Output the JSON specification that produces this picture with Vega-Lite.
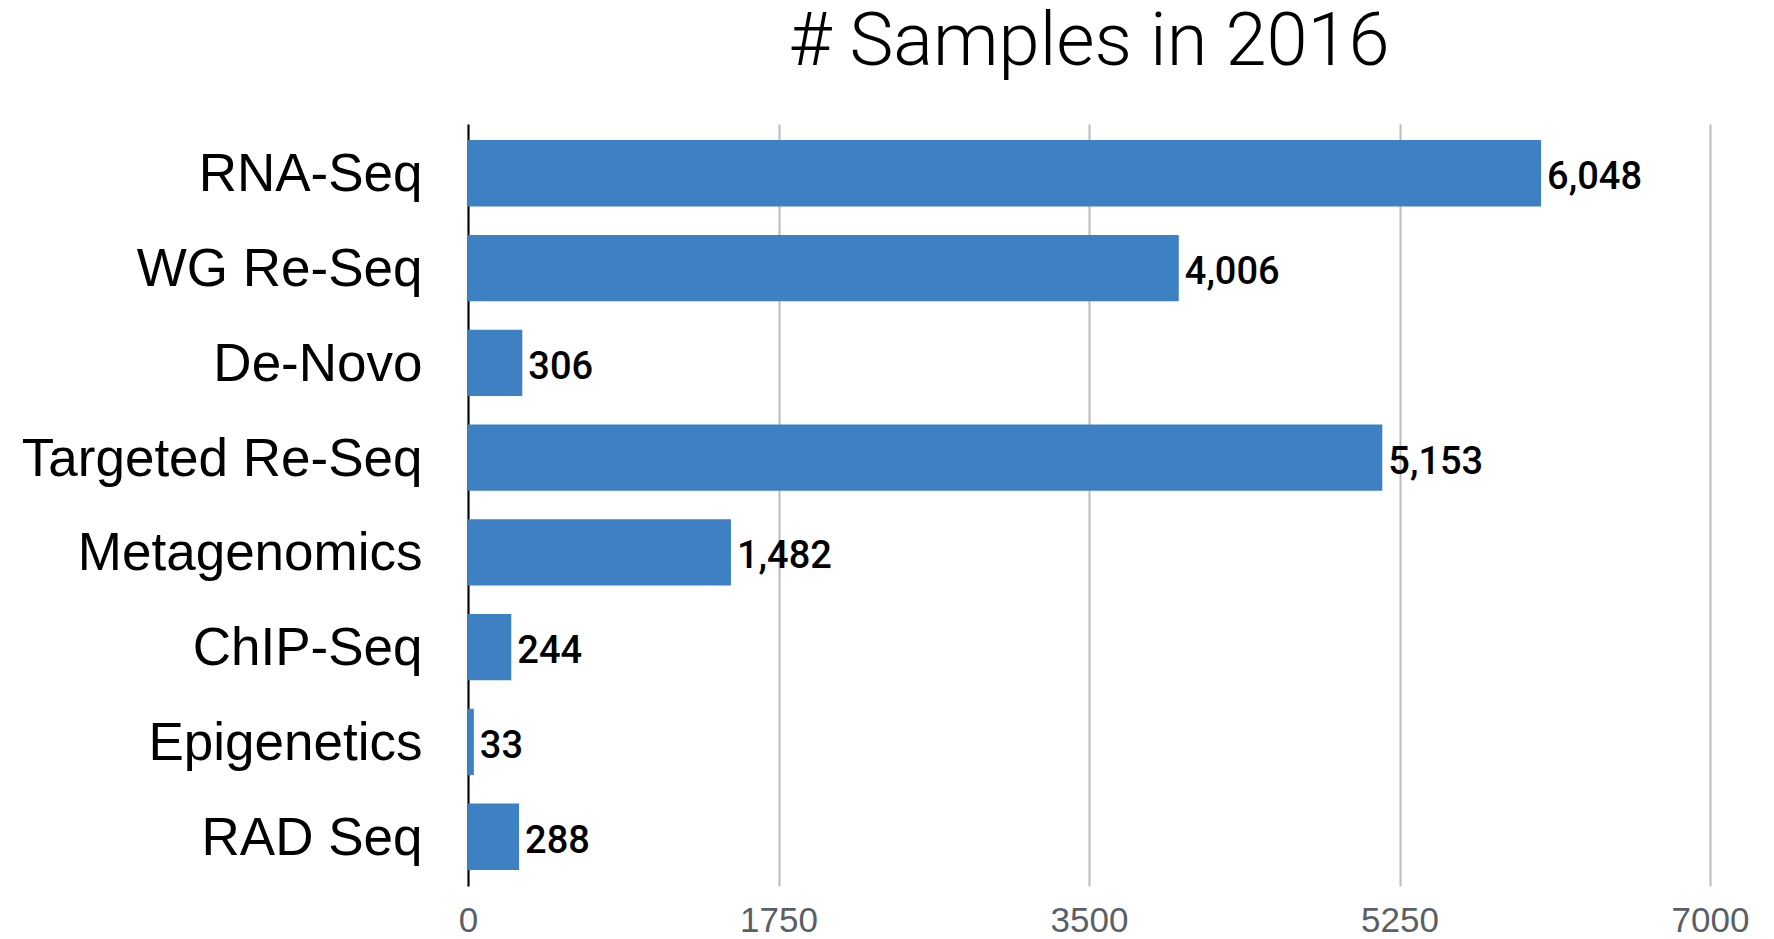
{
  "$schema": "https://vega.github.io/schema/vega-lite/v6.json",
  "width": 1242,
  "height": 762,
  "autosize": "none",
  "padding": {"left": 468, "top": 124, "right": 64, "bottom": 53},
  "background": "white",
  "config": {"view": {"stroke": null}},
  "title": {
    "text": "# Samples in 2016",
    "font": "Roboto",
    "fontWeight": 300,
    "fontSize": 74,
    "color": "black",
    "anchor": "middle",
    "baseline": "alphabetic",
    "offset": -15
  },
  "data": {
    "values": [
      {"type": "RNA-Seq", "samples": 6048},
      {"type": "WG Re-Seq", "samples": 4006},
      {"type": "De-Novo", "samples": 306},
      {"type": "Targeted Re-Seq", "samples": 5153},
      {"type": "Metagenomics", "samples": 1482},
      {"type": "ChIP-Seq", "samples": 244},
      {"type": "Epigenetics", "samples": 33},
      {"type": "RAD Seq", "samples": 288}
    ]
  },
  "encoding": {
    "y": {
      "field": "type",
      "type": "nominal",
      "sort": null,
      "scale": {"paddingInner": 0.3, "paddingOuter": 0.17},
      "axis": {
        "title": null,
        "ticks": false,
        "labelFont": "Liberation Sans",
        "labelFontSize": 53,
        "labelColor": "black",
        "labelPadding": 46,
        "labelLimit": 0,
        "labelOffset": 2,
        "domainColor": "black",
        "domainWidth": 2,
        "grid": false
      }
    },
    "x": {
      "field": "samples",
      "type": "quantitative",
      "scale": {"domain": [0, 7000], "nice": false},
      "axis": {
        "title": null,
        "values": [0, 1750, 3500, 5250, 7000],
        "format": "d",
        "ticks": false,
        "domain": false,
        "labelFlush": false,
        "labelFont": "Liberation Sans",
        "labelFontSize": 35,
        "labelColor": "#5a5f66",
        "labelPadding": 17,
        "gridColor": "#bbbbbb",
        "gridWidth": 2
      }
    }
  },
  "layer": [
    {"mark": {"type": "bar", "color": "#3e81c3"}},
    {
      "mark": {
        "type": "text",
        "align": "left",
        "baseline": "middle",
        "dx": 6,
        "dy": 5,
        "font": "Roboto",
        "fontWeight": 500,
        "fontSize": 38,
        "color": "black"
      },
      "encoding": {"text": {"field": "samples", "type": "quantitative", "format": ","}}
    }
  ]
}
